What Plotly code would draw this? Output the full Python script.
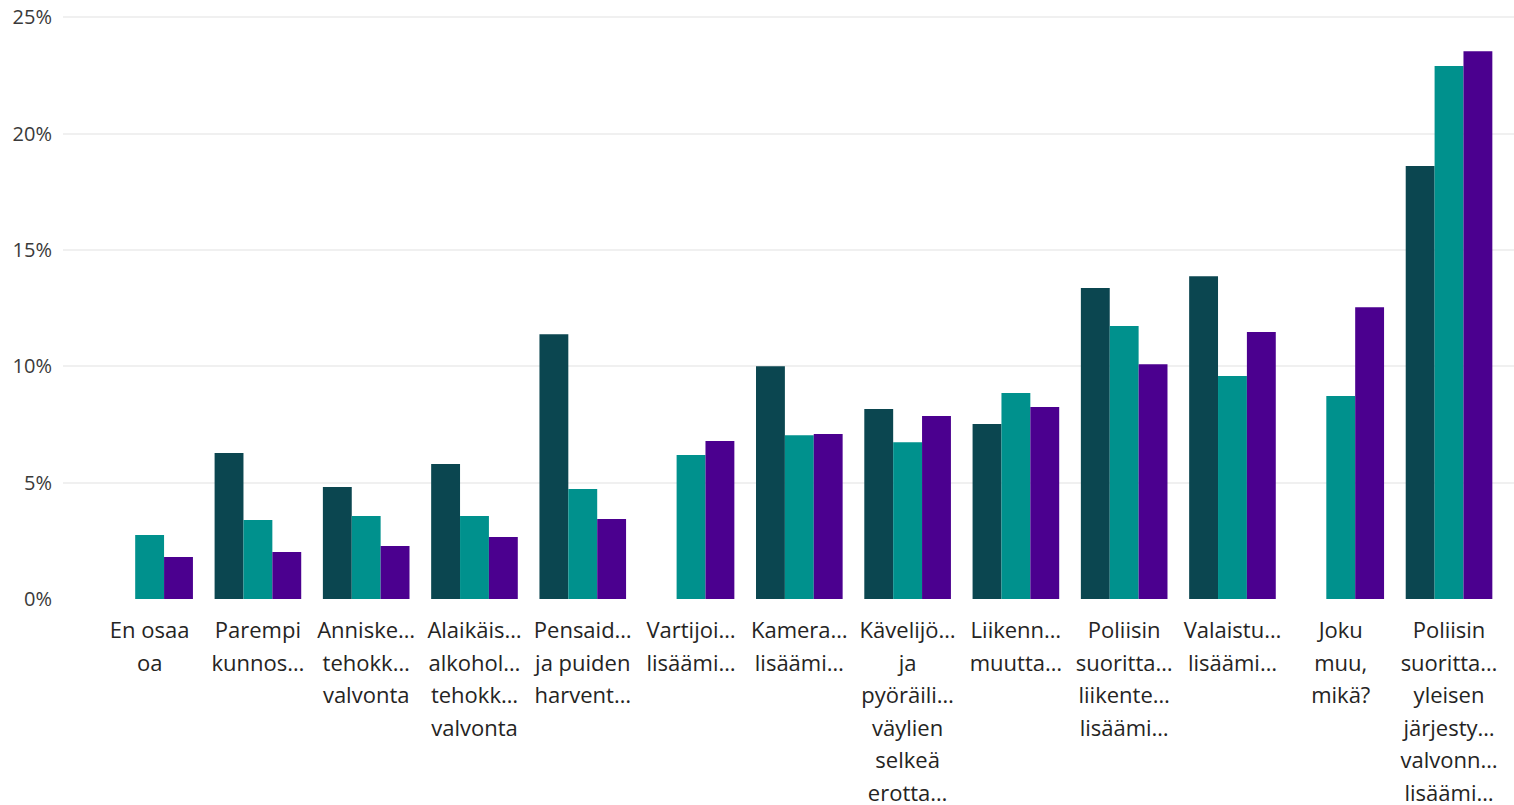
import plotly.graph_objects as go

categories = [
    "En osaa<br>oa",
    "Parempi<br>kunnos…",
    "Anniske…<br>tehokk…<br>valvonta",
    "Alaikäis…<br>alkohol…<br>tehokk…<br>valvonta",
    "Pensaid…<br>ja puiden<br>harvent…",
    "Vartijoi…<br>lisäämi…",
    "Kamera…<br>lisäämi…",
    "Kävelijö…<br>ja<br>pyöräili…<br>väylien<br>selkeä<br>erotta…",
    "Liikenn…<br>muutta…",
    "Poliisin<br>suoritta…<br>liikente…<br>lisäämi…",
    "Valaistu…<br>lisäämi…",
    "Joku<br>muu,<br>mikä?",
    "Poliisin<br>suoritta…<br>yleisen<br>järjesty…<br>valvonn…<br>lisäämi…",
]

series_a = [None, 6.27, 4.81, 5.80, 11.38, None, 10.00, 8.16, 7.52, 13.36, 13.87, None, 18.60]
series_b = [2.75, 3.39, 3.57, 3.57, 4.73, 6.19, 7.04, 6.74, 8.85, 11.73, 9.58, 8.72, 22.90]
series_c = [1.80, 2.02, 2.28, 2.66, 3.44, 6.79, 7.09, 7.86, 8.25, 10.09, 11.47, 12.54, 23.54]

series_names = ["Sarja 1", "Sarja 2", "Sarja 3"]
colors = ["#0b4650", "#00918d", "#4b008f"]

y_ticks = [0, 5, 10, 15, 20, 25]
y_tick_text = ["0%", "5%", "10%", "15%", "20%", "25%"]

# wrap each line in a span so line spacing follows the larger base size
def wrap(label):
    return "<br>".join('<span style="font-size:22px">' + part + "</span>" for part in label.split("<br>"))

x_idx = list(range(len(categories)))
tick_labels = [wrap(c) for c in categories]

fig = go.Figure()
for name, vals, col in zip(series_names, [series_a, series_b, series_c], colors):
    fig.add_trace(go.Bar(
        x=x_idx, y=vals, name=name,
        marker=dict(color=col, line=dict(width=0)),
    ))

fig.update_layout(
    barmode="group",
    bargap=0.2,
    bargroupgap=0,
    showlegend=False,
    width=1514, height=805,
    margin=dict(l=63, r=0, t=16, b=206),
    plot_bgcolor="white",
    paper_bgcolor="white",
    font=dict(family="Open Sans", color="#252423"),
    xaxis=dict(
        tickmode="array", tickvals=x_idx, ticktext=tick_labels,
        tickfont=dict(size=25, color="#252423"),
        range=[-0.8, 12.6],
        showgrid=False, zeroline=False, showline=False, ticks="",
        tickangle=0, automargin=False,
        ticklabelstandoff=13, ticklabeloverflow="allow",
    ),
    yaxis=dict(
        range=[0, 25.05],
        tickmode="array", tickvals=y_ticks, ticktext=y_tick_text,
        tickfont=dict(size=20, color="#3a3a3a"),
        showgrid=True, gridcolor="#f0f0f0", gridwidth=2,
        zeroline=False, showline=False, ticks="",
        ticklabelstandoff=10, automargin=False,
        ticklabeloverflow="allow",
    ),
)

fig.write_html(
    "out.html",
    config={"displayModeBar": False},
    post_script="document.body.style.margin='0';",
)
